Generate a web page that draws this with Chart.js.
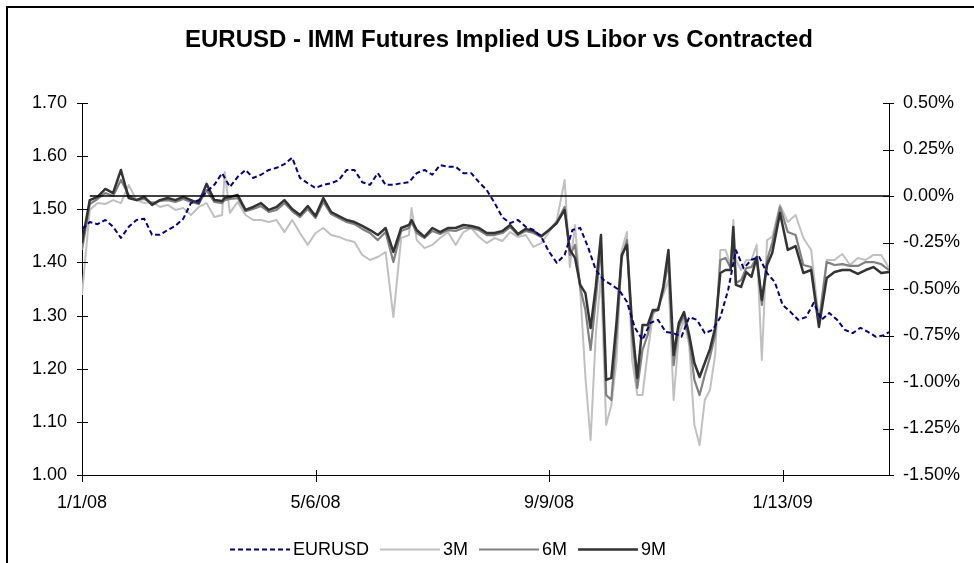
<!DOCTYPE html>
<html>
<head>
<meta charset="utf-8">
<script src="https://cdn.jsdelivr.net/npm/chart.js@4.4.0/dist/chart.umd.min.js"></script>
<style>
  html, body { margin: 0; padding: 0; background: #fff; overflow: hidden; }
  #wrap { position: relative; width: 974px; height: 563px; overflow: hidden; }
  #frame { position: absolute; left: 6px; top: 6px; width: 1000px; height: 620px; border: 2px solid #000; box-sizing: border-box; }
  #c { position: absolute; left: 0; top: 0; }
</style>
</head>
<body>
<div id="wrap">
  <div id="frame"></div>
  <canvas id="c" width="974" height="563"></canvas>
</div>
<script>
const FONT = '"Liberation Sans", Arial, sans-serif';
const TITLE = 'EURUSD - IMM Futures Implied US Libor vs Contracted';

// x = weekday index from 1/1/08
const TICK_POS = [0, 90, 180, 270];
const TICK_LABELS = ['1/1/08', '5/6/08', '9/9/08', '1/13/09'];

const EUR_X = [
  0, 3, 6, 9, 12, 15, 18, 21, 24, 27, 30, 33, 36, 39, 42, 45, 48, 51, 54, 57,
  60, 63, 66, 69, 72, 75, 78, 81, 84, 87, 90, 93, 96, 99, 102, 105, 108, 111, 114, 117,
  120, 123, 126, 129, 132, 135, 138, 141, 144, 147, 150, 153, 156, 159, 162, 165, 168, 171, 174, 177,
  180, 183, 186, 189, 192, 195, 198, 201, 204, 207, 210, 213, 216, 219, 222, 225, 228, 231, 234, 237,
  240, 243, 246, 249, 252, 255, 258, 261, 264, 267, 270, 273, 276, 279, 282, 285, 288, 291, 294, 297,
  300, 303, 306, 309, 311
];
const EURUSD = [
  1.463, 1.476, 1.472, 1.480, 1.467, 1.446, 1.467, 1.480, 1.482, 1.452,
  1.452, 1.461, 1.469, 1.482, 1.512, 1.517, 1.533, 1.546, 1.568, 1.542,
  1.561, 1.574, 1.559, 1.565, 1.574, 1.578, 1.585, 1.597, 1.559, 1.549,
  1.540, 1.546, 1.549, 1.555, 1.574, 1.574, 1.551, 1.546, 1.568, 1.546,
  1.546, 1.549, 1.551, 1.568, 1.574, 1.565, 1.583, 1.580, 1.580, 1.568,
  1.568, 1.551, 1.536, 1.512, 1.485, 1.474, 1.480, 1.467, 1.461, 1.448,
  1.420, 1.399, 1.414, 1.461, 1.465, 1.429, 1.386, 1.367, 1.358, 1.348,
  1.326, 1.278, 1.254, 1.286, 1.292, 1.269, 1.267, 1.260, 1.297, 1.292,
  1.267, 1.273, 1.297, 1.348, 1.423, 1.389, 1.405, 1.410, 1.380, 1.363,
  1.320, 1.307, 1.292, 1.297, 1.324, 1.292, 1.305, 1.292, 1.273, 1.267,
  1.277, 1.269, 1.260, 1.263, 1.269
];

const RATE_X = [
  0, 3, 6, 9, 12, 15, 18, 21, 24, 27, 30, 33, 36, 39, 42, 45, 48, 51, 54, 55,
  57, 60, 63, 66, 69, 72, 75, 78, 81, 84, 87, 90, 93, 96, 99, 102, 105, 108, 111, 114,
  117, 120, 123, 126, 127, 129, 132, 135, 138, 141, 144, 147, 150, 153, 156, 159, 162, 165, 168, 171,
  174, 177, 180, 183, 186, 188, 190, 192, 194, 196, 198, 200, 202, 204, 206, 208, 210, 212, 214, 216,
  218, 220, 222, 224, 226, 228, 230, 232, 234, 236, 238, 240, 242, 244, 246, 248, 250, 251, 252, 254,
  256, 258, 260, 262, 264, 266, 269, 272, 275, 278, 281, 284, 287, 290, 293, 296, 299, 302, 305, 308,
  311
];
// implied minus contracted, in %
const M3 = [
  -0.532, -0.075, -0.038, -0.043, -0.022, -0.038, 0.059, -0.022, -0.038, -0.032, -0.059, -0.048, -0.075, -0.065, -0.102, -0.059, -0.038, -0.113, -0.102, 0.129,
  -0.091, -0.032, -0.102, -0.129, -0.129, -0.140, -0.129, -0.194, -0.129, -0.199, -0.263, -0.199, -0.172, -0.210, -0.220, -0.237, -0.247, -0.317, -0.344, -0.328,
  -0.301, -0.651, -0.226, -0.210, -0.065, -0.237, -0.280, -0.263, -0.226, -0.194, -0.263, -0.194, -0.172, -0.220, -0.253, -0.226, -0.242, -0.194, -0.220, -0.210,
  -0.274, -0.253, -0.194, -0.129, 0.086, -0.382, -0.156, -0.505, -0.973, -1.312, -0.747, -0.425, -1.231, -1.124, -0.882, -0.290, -0.194, -0.882, -1.070, -1.070,
  -0.844, -0.640, -0.597, -0.532, -0.452, -1.097, -0.747, -0.667, -0.801, -1.231, -1.339, -1.097, -1.043, -0.855, -0.290, -0.290, -0.371, -0.129, -0.344, -0.398,
  -0.344, -0.344, -0.263, -0.882, -0.237, -0.220, -0.048, -0.140, -0.102, -0.226, -0.290, -0.667, -0.344, -0.344, -0.312, -0.371, -0.333, -0.344, -0.317, -0.317,
  -0.387
];
const M6 = [
  -0.290, -0.043, -0.016, 0.016, 0.000, 0.086, 0.005, -0.022, -0.016, -0.038, -0.027, -0.022, -0.032, -0.016, -0.032, -0.043, 0.032, -0.032, -0.038, -0.022,
  -0.016, -0.011, -0.081, -0.070, -0.054, -0.086, -0.075, -0.038, -0.081, -0.113, -0.070, -0.118, -0.032, -0.097, -0.118, -0.140, -0.151, -0.177, -0.199, -0.237,
  -0.194, -0.355, -0.188, -0.172, -0.140, -0.199, -0.226, -0.188, -0.204, -0.183, -0.188, -0.172, -0.172, -0.183, -0.210, -0.210, -0.199, -0.167, -0.210, -0.188,
  -0.199, -0.220, -0.183, -0.140, -0.059, -0.317, -0.263, -0.495, -0.613, -0.828, -0.559, -0.263, -1.070, -1.097, -0.747, -0.333, -0.237, -0.747, -1.032, -0.828,
  -0.747, -0.624, -0.613, -0.505, -0.355, -0.909, -0.704, -0.640, -0.774, -0.989, -1.070, -0.962, -0.866, -0.747, -0.344, -0.333, -0.387, -0.194, -0.468, -0.452,
  -0.387, -0.382, -0.328, -0.586, -0.344, -0.253, -0.059, -0.194, -0.210, -0.371, -0.382, -0.683, -0.355, -0.371, -0.366, -0.376, -0.376, -0.355, -0.355, -0.366,
  -0.398
];
const M9 = [
  -0.253, -0.022, -0.005, 0.038, 0.016, 0.140, -0.011, -0.022, -0.005, -0.048, -0.022, -0.011, -0.022, -0.005, -0.022, -0.038, 0.065, -0.022, -0.027, -0.011,
  -0.005, 0.005, -0.075, -0.059, -0.038, -0.075, -0.059, -0.022, -0.070, -0.102, -0.054, -0.108, -0.011, -0.086, -0.108, -0.129, -0.140, -0.161, -0.183, -0.210,
  -0.172, -0.301, -0.172, -0.156, -0.129, -0.183, -0.220, -0.172, -0.194, -0.172, -0.172, -0.156, -0.161, -0.172, -0.199, -0.199, -0.188, -0.156, -0.204, -0.177,
  -0.188, -0.215, -0.183, -0.145, -0.075, -0.290, -0.333, -0.478, -0.522, -0.710, -0.489, -0.210, -0.989, -0.978, -0.677, -0.317, -0.263, -0.694, -0.978, -0.694,
  -0.694, -0.613, -0.613, -0.489, -0.290, -0.855, -0.683, -0.624, -0.747, -0.898, -0.973, -0.898, -0.823, -0.710, -0.414, -0.398, -0.398, -0.167, -0.478, -0.489,
  -0.409, -0.435, -0.328, -0.559, -0.371, -0.306, -0.091, -0.290, -0.269, -0.414, -0.398, -0.704, -0.441, -0.409, -0.398, -0.398, -0.419, -0.398, -0.382, -0.414,
  -0.409
];
const ZERO_X = [3, 311];
const ZERO_Y = [0, 0];

const pts = (xs, ys) => ys.map((y, i) => ({ x: xs[i], y }));

// crossing tick marks, title and legend drawn by hand to match the Excel look
const decor = {
  id: 'decor',
  afterDraw(chart) {
    const { ctx, chartArea: a, scales } = chart;
    ctx.save();
    ctx.strokeStyle = '#000';
    ctx.lineWidth = 1;
    ctx.beginPath();
    scales.y.ticks.forEach((t) => {
      const py = Math.round(scales.y.getPixelForValue(t.value)) + 0.5;
      ctx.moveTo(a.left - 5, py);
      ctx.lineTo(a.left + 6, py);
    });
    scales.y2.ticks.forEach((t) => {
      const py = Math.round(scales.y2.getPixelForValue(t.value)) + 0.5;
      ctx.moveTo(a.right - 6, py);
      ctx.lineTo(a.right + 5, py);
    });
    scales.x.ticks.forEach((t) => {
      const px = Math.round(scales.x.getPixelForValue(t.value)) + 0.5;
      ctx.moveTo(px, a.bottom - 5);
      ctx.lineTo(px, a.bottom + 7);
    });
    ctx.stroke();

    ctx.fillStyle = '#000';
    ctx.font = `bold 24px ${FONT}`;
    ctx.textAlign = 'center';
    ctx.textBaseline = 'middle';
    ctx.fillText(TITLE, 499, 40);

    ctx.font = `18px ${FONT}`;
    ctx.textAlign = 'left';
    let x = 230;
    const y = 549;
    chart.data.datasets.forEach((ds) => {
      if (!ds.inLegend) return;
      ctx.beginPath();
      ctx.setLineDash(ds.borderDash || []);
      ctx.lineWidth = ds.borderWidth;
      ctx.strokeStyle = ds.borderColor;
      ctx.moveTo(x, y + 0.5);
      ctx.lineTo(x + 60, y + 0.5);
      ctx.stroke();
      ctx.setLineDash([]);
      ctx.fillText(ds.label, x + 63, y + 1);
      x += 63 + ctx.measureText(ds.label).width + 11;
    });
    ctx.restore();
  },
};

const line = (label, xs, ys, color, width, axis, order, extra) => Object.assign({
  label,
  data: pts(xs, ys),
  yAxisID: axis,
  borderColor: color,
  borderWidth: width,
  pointRadius: 0,
  tension: 0,
  borderJoinStyle: 'round',
  fill: false,
  order,
  inLegend: true,
}, extra || {});

new Chart(document.getElementById('c'), {
  type: 'line',
  data: {
    datasets: [
      line('EURUSD', EUR_X, EURUSD, '#000080', 2, 'y', 0, { borderDash: [5, 3] }),
      line('3M', RATE_X, M3, '#c0c0c0', 2, 'y2', 4),
      line('6M', RATE_X, M6, '#808080', 2.2, 'y2', 3),
      line('9M', RATE_X, M9, '#333333', 2.5, 'y2', 2),
      line('zero', ZERO_X, ZERO_Y, '#000000', 1.5, 'y2', 1, { inLegend: false }),
    ],
  },
  options: {
    responsive: false,
    animation: false,
    devicePixelRatio: 1,
    events: [],
    layout: { padding: { top: 103, left: 0, right: 0, bottom: 0 } },
    plugins: { legend: { display: false }, title: { display: false }, tooltip: { enabled: false } },
    scales: {
      x: {
        type: 'linear',
        min: 0,
        max: 311,
        afterBuildTicks: (s) => { s.ticks = TICK_POS.map((v) => ({ value: v })); },
        afterFit: (s) => { s.height = 88; },
        grid: { drawOnChartArea: false, drawTicks: false },
        border: { color: '#000', width: 1 },
        ticks: {
          autoSkip: false,
          maxRotation: 0,
          padding: 17,
          color: '#000',
          font: { family: FONT, size: 18 },
          callback: (v, i) => TICK_LABELS[i],
        },
      },
      y: {
        position: 'left',
        min: 1.0,
        max: 1.7,
        afterFit: (s) => { s.width = 82; },
        grid: { drawOnChartArea: false, drawTicks: false },
        border: { color: '#000', width: 1 },
        ticks: {
          stepSize: 0.1,
          padding: 15,
          color: '#000',
          font: { family: FONT, size: 18 },
          callback: (v) => v.toFixed(2),
        },
      },
      y2: {
        position: 'right',
        min: -1.5,
        max: 0.5,
        afterFit: (s) => { s.width = 85; },
        grid: { drawOnChartArea: false, drawTicks: false },
        border: { color: '#000', width: 1 },
        ticks: {
          stepSize: 0.25,
          padding: 14,
          color: '#000',
          font: { family: FONT, size: 18 },
          callback: (v) => v.toFixed(2) + '%',
        },
      },
    },
  },
  plugins: [decor],
});
</script>
</body>
</html>
